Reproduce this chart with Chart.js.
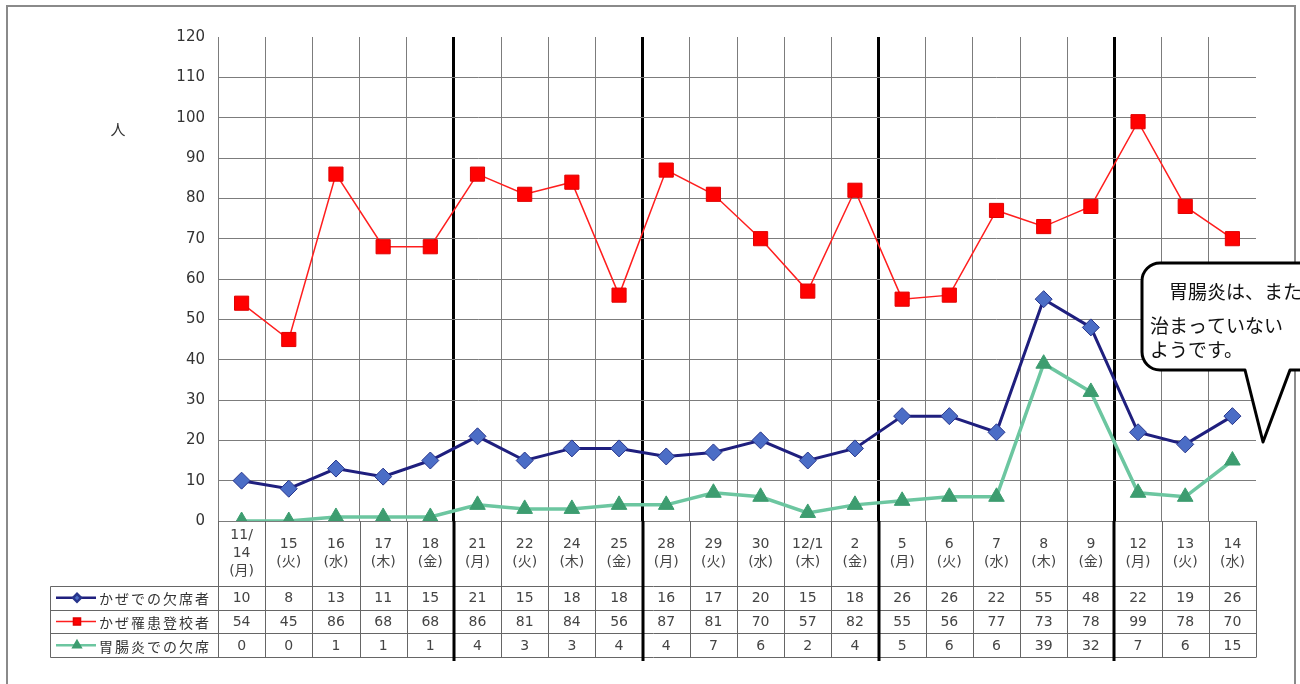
<!DOCTYPE html>
<html lang="ja">
<head>
<meta charset="utf-8">
<title>かぜ・胃腸炎の欠席者数</title>
<script src="https://cdn.jsdelivr.net/npm/chart.js@4.4.1/dist/chart.umd.min.js"></script>
<style>
  html, body { margin: 0; padding: 0; background: #fff; }
  #wrap { position: relative; width: 1300px; height: 684px; overflow: hidden; }
</style>
</head>
<body>
<div id="wrap"><canvas id="chart" width="1300" height="684"></canvas></div>
<script>
// 日付（上段）と曜日（下段）
const dates = [['11/', '14'], ['15'], ['16'], ['17'], ['18'], ['21'], ['22'], ['24'], ['25'],
  ['28'], ['29'], ['30'], ['12/1'], ['2'], ['5'], ['6'], ['7'], ['8'], ['9'], ['12'], ['13'], ['14']];
const weekdays = ['月', '火', '水', '木', '金', '月', '火', '木', '金', '月', '火', '水', '木', '金',
  '月', '火', '水', '木', '金', '月', '火', '水'];

// 系列名と人数
const seriesNames = ['かぜでの欠席者', 'かぜ罹患登校者', '胃腸炎での欠席'];
const coldAbsent = [10, 8, 13, 11, 15, 21, 15, 18, 18, 16, 17, 20, 15, 18, 26, 26, 22, 55, 48, 22, 19, 26];
const coldAttending = [54, 45, 86, 68, 68, 86, 81, 84, 56, 87, 81, 70, 57, 82, 55, 56, 77, 73, 78, 99, 78, 70];
const gastroAbsent = [0, 0, 1, 1, 1, 4, 3, 3, 4, 4, 7, 6, 2, 4, 5, 6, 6, 39, 32, 7, 6, 15];

// 縦軸
const yMin = 0, yMax = 120, yStep = 10;
const yUnit = '人';

// 週の区切り（その列の左側に太線）
const weekBreaks = [5, 9, 14, 19];

// 吹き出しの文
const noteLines = ['　胃腸炎は、また', '治まっていない', 'ようです。'];

const labels = dates.map((d, i) => [...d, '(' + weekdays[i] + ')']);

const styles = [
  { line: '#1f1f7e', fill: '#4b6dc6', edge: '#27358c', point: 'rectRot', r: 8.5, w: 3 },
  { line: '#ff1e1e', fill: '#ff0000', edge: '#e00000', point: 'rect', r: 10, w: 1.5 },
  { line: '#6cc6a0', fill: '#3d9d70', edge: '#3d9d70', point: 'triangle', r: 9, w: 3.5 }
];
const seriesData = [coldAbsent, coldAttending, gastroAbsent];

const GRID = '#7c7c7c';
const TEXT = '#444';
const NUM_FONT = "'DejaVu Sans', 'Noto Sans CJK JP', sans-serif";
const JP_FONT = "'Noto Sans CJK JP', sans-serif";

const decor = {
  id: 'decor',
  beforeDraw(chart) {
    const ctx = chart.ctx;
    ctx.save();
    ctx.strokeStyle = '#8a8a8a';
    ctx.lineWidth = 2;
    ctx.beginPath();
    ctx.moveTo(7, 700);
    ctx.lineTo(7, 6);
    ctx.lineTo(1295, 6);
    ctx.lineTo(1295, 700);
    ctx.stroke();
    ctx.restore();
  },
  afterDraw(chart) {
    const ctx = chart.ctx;
    const xs = chart.scales.x;
    const area = chart.chartArea;
    const n = labels.length;
    const edge = i => Math.round(xs.getPixelForValue(i - 0.5)) + 0.5;
    const tableTop = area.bottom + 65;
    const rowH = 23.7;
    const tableBottom = tableTop + rowH * 3;
    const tableLeft = 50.5;

    ctx.save();
    // 単位
    ctx.fillStyle = '#333';
    ctx.font = '15px ' + JP_FONT;
    ctx.textAlign = 'center';
    ctx.textBaseline = 'middle';
    ctx.fillText(yUnit, 118, 129);

    // 表の罫線
    ctx.strokeStyle = '#666';
    ctx.lineWidth = 1;
    ctx.beginPath();
    for (let i = 0; i <= n; i++) {
      const x = edge(i);
      ctx.moveTo(x, area.bottom);
      ctx.lineTo(x, tableBottom);
    }
    for (let r = 0; r <= 3; r++) {
      const y = Math.round(tableTop + r * rowH) + 0.5;
      ctx.moveTo(tableLeft, y);
      ctx.lineTo(edge(n), y);
    }
    ctx.moveTo(tableLeft, Math.round(tableTop) + 0.5);
    ctx.lineTo(tableLeft, Math.round(tableBottom) + 0.5);
    ctx.stroke();

    // 週の区切り線を表の下まで延長
    ctx.strokeStyle = '#000';
    ctx.lineWidth = 3;
    ctx.beginPath();
    weekBreaks.forEach(i => {
      const x = Math.round(xs.getPixelForValue(i - 0.5));
      ctx.moveTo(x, area.bottom);
      ctx.lineTo(x, tableBottom + 4);
    });
    ctx.stroke();

    // 各行
    seriesData.forEach((vals, r) => {
      const cy = tableTop + rowH * (r + 0.5);
      const s = styles[r];
      // 凡例
      ctx.strokeStyle = s.line;
      ctx.lineWidth = r === 1 ? 1.5 : 2.5;
      ctx.beginPath();
      ctx.moveTo(56, cy);
      ctx.lineTo(96, cy);
      ctx.stroke();
      ctx.fillStyle = s.fill;
      ctx.strokeStyle = s.edge;
      Chart.helpers.drawPoint(ctx, { pointStyle: s.point, radius: r === 1 ? 5 : 4, rotation: 0, borderWidth: 1 }, 77, cy);
      ctx.fillStyle = '#333';
      ctx.font = '14px ' + JP_FONT;
      ctx.textAlign = 'left';
      ctx.textBaseline = 'middle';
      ctx.letterSpacing = '2px';
      ctx.fillText(seriesNames[r], 99, cy + 1);
      ctx.letterSpacing = '0px';
      // 値
      ctx.fillStyle = TEXT;
      ctx.font = '14px ' + NUM_FONT;
      ctx.textAlign = 'center';
      vals.forEach((v, i) => ctx.fillText(String(v), xs.getPixelForValue(i), cy + 1));
    });

    // 吹き出し
    const L = 1142, T = 263, R = 1340, B = 370, rad = 18;
    ctx.beginPath();
    ctx.moveTo(L + rad, T);
    ctx.lineTo(R, T);
    ctx.lineTo(R, B);
    ctx.lineTo(1290, B);
    ctx.lineTo(1263, 442);
    ctx.lineTo(1245, B);
    ctx.lineTo(L + rad, B);
    ctx.arcTo(L, B, L, B - rad, rad);
    ctx.lineTo(L, T + rad);
    ctx.arcTo(L, T, L + rad, T, rad);
    ctx.closePath();
    ctx.fillStyle = '#fff';
    ctx.fill();
    ctx.strokeStyle = '#000';
    ctx.lineWidth = 3;
    ctx.lineJoin = 'round';
    ctx.stroke();
    ctx.fillStyle = '#111';
    ctx.font = '19px ' + JP_FONT;
    ctx.textAlign = 'left';
    ctx.textBaseline = 'middle';
    const noteY = [292, 326, 350];
    noteLines.forEach((t, k) => ctx.fillText(t, 1150, noteY[k]));
    ctx.restore();
  }
};

new Chart(document.getElementById('chart'), {
  type: 'line',
  data: {
    labels,
    datasets: seriesData.map((vals, k) => ({
      label: seriesNames[k],
      data: vals,
      borderColor: styles[k].line,
      borderWidth: styles[k].w,
      backgroundColor: styles[k].fill,
      pointBackgroundColor: styles[k].fill,
      pointBorderColor: styles[k].edge,
      pointBorderWidth: 1,
      pointStyle: styles[k].point,
      pointRadius: styles[k].r,
      tension: 0,
      fill: false
    }))
  },
  options: {
    responsive: false,
    animation: false,
    events: [],
    layout: { padding: { left: 158, right: 44, top: 37, bottom: 98 } },
    plugins: { legend: { display: false }, tooltip: { enabled: false } },
    scales: {
      x: {
        offset: true,
        grid: {
          offset: true,
          drawTicks: false,
          color: c => (c.index === undefined ? 'rgba(0,0,0,0)' : weekBreaks.includes(c.index) ? '#000' : GRID),
          lineWidth: c => (weekBreaks.includes(c.index) ? 3 : 1)
        },
        border: { display: true, color: GRID },
        ticks: {
          autoSkip: false,
          maxRotation: 0,
          crossAlign: 'center',
          padding: 14,
          color: TEXT,
          font: { family: NUM_FONT, size: 14, lineHeight: 1.3 }
        },
        afterFit: s => { s.height = 65; }
      },
      y: {
        min: yMin,
        max: yMax,
        grid: {
          drawTicks: false,
          color: c => (c.tick && c.tick.value === yMax ? 'rgba(0,0,0,0)' : GRID)
        },
        border: { display: true, color: GRID },
        ticks: {
          stepSize: yStep,
          padding: 13,
          color: '#333',
          font: { family: NUM_FONT, size: 15 }
        },
        afterFit: s => { s.width = 60; }
      }
    }
  },
  plugins: [decor]
});
</script>
</body>
</html>
